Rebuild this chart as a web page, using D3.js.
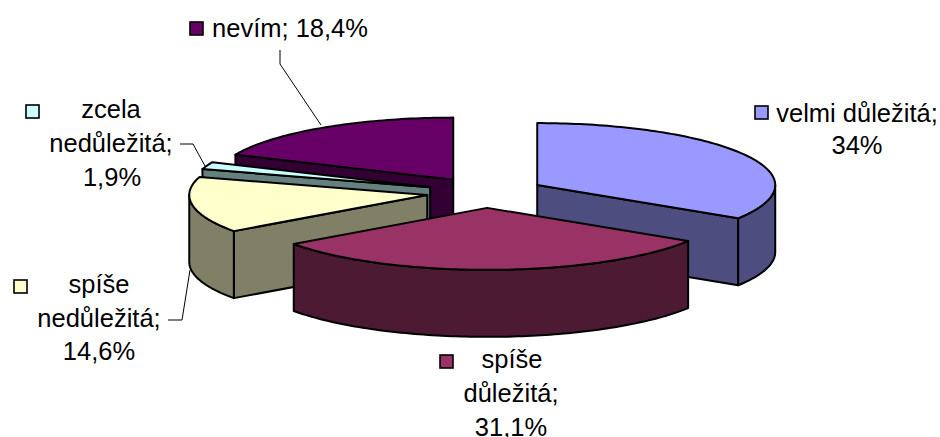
<!DOCTYPE html>
<html><head><meta charset="utf-8">
<script src="https://cdn.jsdelivr.net/npm/d3@7/dist/d3.min.js"></script>
<style>html,body{margin:0;padding:0;background:#fff;overflow:hidden}svg{display:block}text{font-family:"Liberation Sans",Arial,sans-serif;font-size:25.5px;fill:#000}</style>
</head><body><svg id="c" width="940" height="437"></svg>
<script>
const categories = ["velmi důležitá","spíše důležitá","spíše nedůležitá","zcela nedůležitá","nevím"];
const values = [34, 31.1, 14.6, 1.9, 18.4];
const valueLabels = ["34%","31,1%","14,6%","1,9%","18,4%"];
const topColors = ["#9999FF","#993366","#FFFFCC","#CCFFFF","#660066"];
const sideColors = ["#4D4D80","#4D1A33","#808066","#668080","#330033"];
const drawOrder = [4,3,2,0,1];
const labelLines = [
  [{t:"velmi důležitá;",x:857,y:122},{t:"34%",x:857,y:154}],
  [{t:"spíše",x:512,y:368},{t:"důležitá;",x:511,y:402},{t:"31,1%",x:511,y:436}],
  [{t:"spíše",x:99,y:293},{t:"nedůležitá;",x:99,y:327},{t:"14,6%",x:99,y:360}],
  [{t:"zcela",x:111,y:118},{t:"nedůležitá;",x:111,y:152},{t:"1,9%",x:112,y:186}],
  [{t:"nevím; 18,4%",x:290,y:37}]
];
const keyPos = [[755,106],[440,355],[14,280],[26,105],[190,22]];
const leaders = [null,null,[[168,320],[182,320],[190,270]],[[180,144],[193,144],[205,166]],[[280,50],[280,64],[321,125]]];

const svg = d3.select("#c");
const cx=485.5, cy=192.5, rx=238, ry=62, depth=67, explode=0.248;
const sx=d3.scaleLinear().domain([-1,1]).range([-rx,rx]);
const sy=d3.scaleLinear().domain([-1,1]).range([-ry,ry]);
const arcs=d3.pie().sort(null).value(d=>d)(values);
const line=d3.line();
const HALF=Math.PI/2;

function rim(a0,a1,o,dy){
  const n=Math.max(2,Math.ceil((a1-a0)/0.02));
  return d3.range(n+1).map(i=>{const a=a0+(a1-a0)*i/n;return [o[0]+sx(Math.sin(a)),o[1]-sy(Math.cos(a))+dy];});
}
function pt(a,o,dy){return [o[0]+sx(Math.sin(a)),o[1]-sy(Math.cos(a))+dy];}
const style=(s,fill)=>s.attr("fill",fill).attr("stroke","#000").attr("stroke-width",2).attr("stroke-linejoin","round");

drawOrder.forEach(i=>{
  const d=arcs[i], a0=d.startAngle, a1=d.endAngle, mid=(a0+a1)/2;
  const o=[cx+explode*sx(Math.sin(mid)), cy-explode*sy(Math.cos(mid))];
  const g=svg.append("g");
  [[a0,a0-HALF],[a1,a1+HALF]].forEach(([a,n])=>{
    if(Math.cos(n)<-1e-6){
      const p=pt(a,o,0),q=pt(a,o,depth);
      g.append("path").attr("d",line([[o[0],o[1]],p,q,[o[0],o[1]+depth]])+"Z").call(style,sideColors[i]);
    }
  });
  const w0=Math.max(a0,HALF), w1=Math.min(a1,3*HALF);
  if(w1>w0){
    g.append("path").attr("d",line(rim(w0,w1,o,0).concat(rim(w0,w1,o,depth).reverse()))+"Z").call(style,sideColors[i]);
  }
  g.append("path").attr("d",line([[o[0],o[1]]].concat(rim(a0,a1,o,0)))+"Z").call(style,topColors[i]);
});

leaders.forEach(l=>{ if(l) svg.append("path").attr("d",line(l)).attr("fill","none").attr("stroke","#000").attr("stroke-width",1); });

categories.forEach((c,i)=>{
  svg.append("rect").attr("x",keyPos[i][0]).attr("y",keyPos[i][1]).attr("width",13).attr("height",13)
     .attr("fill",topColors[i]).attr("stroke","#000").attr("stroke-width",1.6);
  labelLines[i].forEach(l=>svg.append("text").attr("x",l.x).attr("y",l.y).attr("text-anchor","middle").text(l.t));
});
</script></body></html>
